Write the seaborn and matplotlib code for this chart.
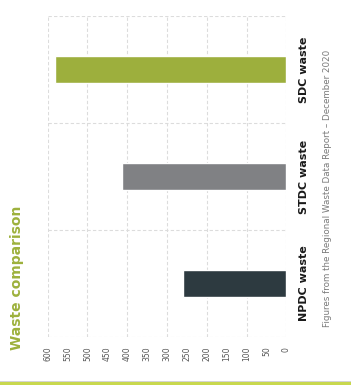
import matplotlib
matplotlib.use("Agg")
import matplotlib.pyplot as plt
import seaborn as sns
import pandas as pd
from matplotlib.patches import Rectangle

# Data
categories = ["NPDC waste", "STDC waste", "SDC waste"]
values = [260, 413, 582]
colors = ["#2d3a40", "#808184", "#9daf3d"]
tick_values = list(range(0, 650, 50))
grid_values = list(range(0, 700, 100))
title = "Waste comparison"
caption = "Figures from the Regional Waste Data Report \u2013 December 2020"

sns.set_theme(style="white")
plt.rcParams['font.family'] = ['DejaVu Sans']

df = pd.DataFrame({"category": categories, "value": values})
order = categories[::-1]
palette = dict(zip(categories, colors))

W, H = 351, 385
fig = plt.figure(figsize=(W / 100, H / 100), dpi=100)
fig.patch.set_facecolor("white")
left, right, top, bottom = 47.7, 286.3, 16, 337
ax = fig.add_axes([left / W, (H - bottom) / H, (right - left) / W, (bottom - top) / H])

sns.barplot(data=df, x="value", y="category", hue="category", order=order,
            hue_order=order, palette=palette, orient="h", width=0.26,
            legend=False, ax=ax, saturation=1, zorder=2)

ax.set_xlim(600, 0)
ax.set_ylim(2.5, -0.5)
for s in ax.spines.values():
    s.set_visible(False)
ax.grid(False)
for g in grid_values:
    ax.axvline(g, color="#dcdcdc", ls=(0, (3, 2)), lw=0.8, zorder=0)
for b in [-0.5, 0.5, 1.5, 2.5]:
    ax.axhline(b, color="#dcdcdc", ls=(0, (3, 2)), lw=0.8, zorder=0)

ax.set_xticks(tick_values)
ax.set_xticklabels([str(t) for t in tick_values])
ax.tick_params(axis="x", length=0, pad=7, labelsize=5.5, labelcolor="#555555",
               labelrotation=90)
ax.yaxis.tick_right()
ax.tick_params(axis="y", length=0, pad=9, labelsize=8, labelcolor="#1a1a1a",
               labelrotation=90)
for lbl in ax.get_yticklabels():
    lbl.set_fontweight("bold")
    lbl.set_va("center")
ax.set_xlabel("")
ax.set_ylabel("")

fig.text(17 / W, (H - 350) / H, title, rotation=90, ha="center", va="bottom",
         fontsize=10, fontweight="bold", color="#9db13c")
fig.text(328 / W, (H - 327) / H, caption, rotation=90, ha="center", va="bottom",
         fontsize=6.3, color="#7a7a7a")

fig.patches.append(Rectangle((0, 3 / H), 1, 1 / H, transform=fig.transFigure,
                             facecolor="#d4d4d4", edgecolor="none"))
fig.patches.append(Rectangle((0, 0), 1, 3 / H, transform=fig.transFigure,
                             facecolor="#c8d84e", edgecolor="none"))

fig.savefig("out.png", dpi=100, facecolor="white")
